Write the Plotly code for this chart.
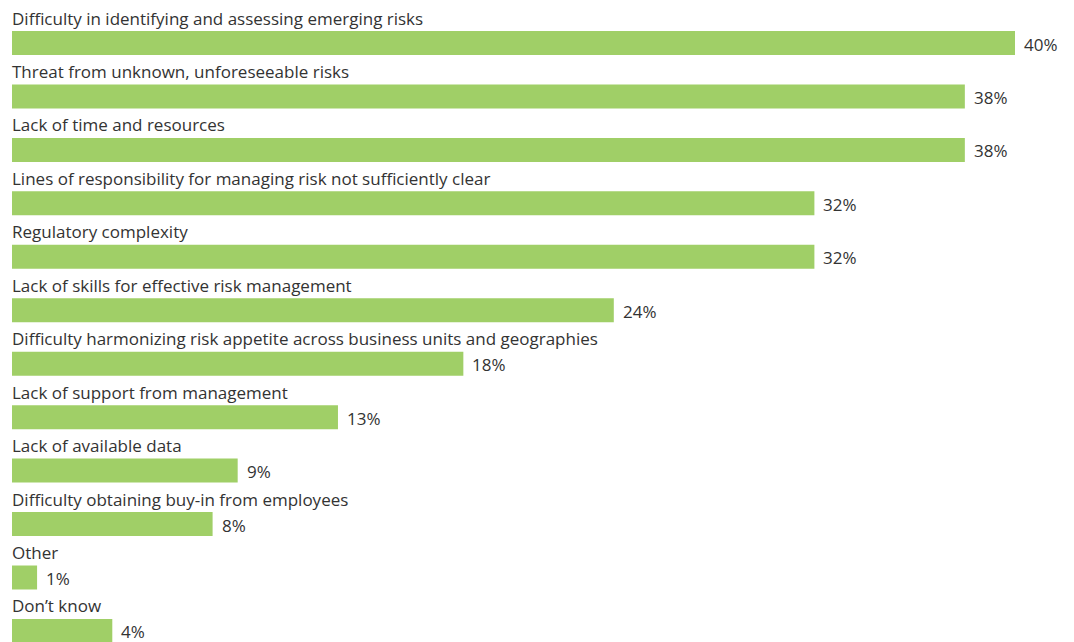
import plotly.graph_objects as go

categories = [
    "Difficulty in identifying and assessing emerging risks",
    "Threat from unknown, unforeseeable risks",
    "Lack of time and resources",
    "Lines of responsibility for managing risk not sufficiently clear",
    "Regulatory complexity",
    "Lack of skills for effective risk management",
    "Difficulty harmonizing risk appetite across business units and geographies",
    "Lack of support from management",
    "Lack of available data",
    "Difficulty obtaining buy-in from employees",
    "Other",
    "Don\u2019t know",
]
values = [40, 38, 38, 32, 32, 24, 18, 13, 9, 8, 1, 4]

BAR_COLOR = "#A0CF67"
TEXT_COLOR = "#333333"
FONT = "Open Sans"
FONT_SIZE = 17

W, H = 1074, 642
LEFT = 12
PX_PER_PCT = (1015 - LEFT) / 40.0
ROW = 53.45
FIRST_CENTER = 43.0

pos = list(range(len(categories)))

fig = go.Figure(
    go.Bar(
        x=values,
        y=pos,
        orientation="h",
        width=24 / ROW,
        marker=dict(color=BAR_COLOR, line=dict(width=0)),
        hoverinfo="skip",
    )
)

annotations = []
for i, (cat, v) in enumerate(zip(categories, values)):
    # category label sits above its bar, flush with the bar's left edge
    annotations.append(dict(
        x=0, y=i - 25 / ROW, xref="x", yref="y",
        text=cat, showarrow=False, xanchor="left", yanchor="middle",
        xshift=-2,
        font=dict(family=FONT, size=FONT_SIZE, color=TEXT_COLOR),
    ))
    # value label just past the end of the bar
    annotations.append(dict(
        x=v, y=i + 1 / ROW, xref="x", yref="y",
        text=f"{v}%", showarrow=False, xanchor="left", yanchor="middle",
        xshift=8, borderpad=0,
        font=dict(family=FONT, size=FONT_SIZE, color=TEXT_COLOR),
    ))

fig.update_layout(
    width=W, height=H,
    margin=dict(l=LEFT, r=0, t=0, b=0),
    paper_bgcolor="white", plot_bgcolor="white",
    showlegend=False,
    xaxis=dict(range=[0, (W - LEFT) / PX_PER_PCT], visible=False, fixedrange=True),
    yaxis=dict(
        range=[(H - FIRST_CENTER) / ROW, -FIRST_CENTER / ROW],
        visible=False, fixedrange=True,
    ),
    annotations=annotations,
)

fig.write_html("out.html", config={"displayModeBar": False})
